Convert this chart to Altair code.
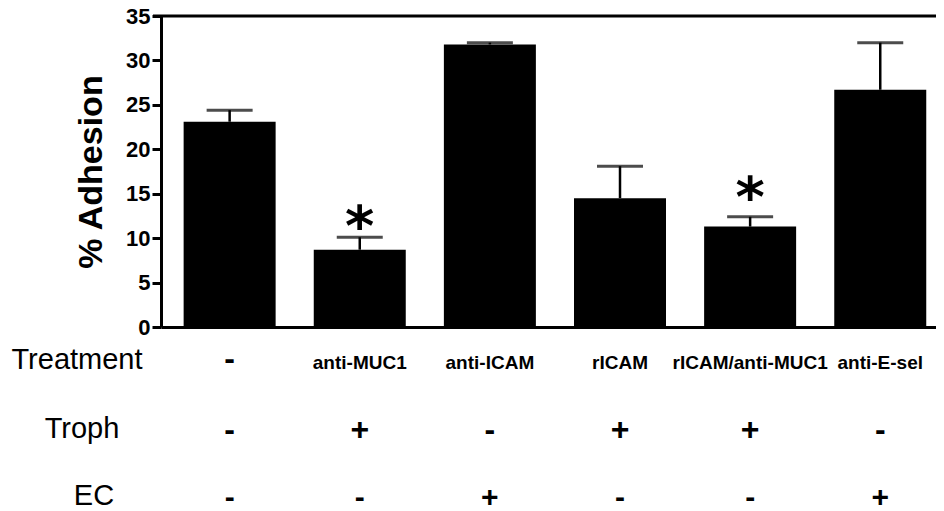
import altair as alt
import pandas as pd

# ---- data ----
treatments = ["-", "anti-MUC1", "anti-ICAM", "rICAM", "rICAM/anti-MUC1", "anti-E-sel"]
adhesion = [23.1, 8.7, 31.8, 14.5, 11.3, 26.7]
err_top = [24.4, 10.1, 32.0, 18.1, 12.4, 32.0]
troph = ["-", "+", "-", "+", "+", "-"]
ec = ["-", "-", "+", "-", "-", "+"]
stars = ["", "*", "", "", "*", ""]
star_y = [None, 12.8, None, None, 16.1, None]
row_labels = ["Treatment", "Troph", "EC"]
y_ticks = [0, 5, 10, 15, 20, 25, 30, 35]

df = pd.DataFrame({
    "idx": list(range(len(treatments))),
    "treatment": treatments,
    "adhesion": adhesion,
    "err": err_top,
    "troph": troph,
    "ec": ec,
    "star": stars,
    "star_y": star_y,
})

W, H = 775, 311
FONT = "Liberation Sans"

xscale = alt.Scale(domain=[-0.489, 5.39], nice=False, zero=False)
yscale = alt.Scale(domain=[0, 35], nice=False)

x_enc = alt.X("idx:Q", scale=xscale,
              axis=alt.Axis(labels=False, ticks=False, grid=False, title=None,
                            domainColor="black", domainWidth=3))
y_axis = alt.Axis(values=y_ticks, grid=False, title="% Adhesion",
                  titleFont=FONT, titleFontSize=34, titleFontWeight="bold",
                  titleColor="black", titlePadding=17,
                  labelFont=FONT, labelFontSize=22, labelFontWeight="bold",
                  labelColor="black", labelPadding=2,
                  domainColor="black", domainWidth=3,
                  tickColor="black", tickWidth=3, tickSize=9)

base = alt.Chart(df)

bars = base.mark_bar(color="black", size=92).encode(
    x=x_enc,
    y=alt.Y("adhesion:Q", scale=yscale, axis=y_axis),
)

stems = base.mark_rule(color="black", strokeWidth=2.5).encode(
    x="idx:Q", y="adhesion:Q", y2="err:Q")

caps = base.mark_tick(color="black", orient="horizontal", size=46, thickness=3).encode(
    x="idx:Q", y="err:Q")

star_marks = base.transform_filter("datum.star != ''").mark_text(
    font="DejaVu Sans", fontWeight="bold", fontSize=56, color="black",
    baseline="alphabetic", dy=32).encode(
    x="idx:Q", y="star_y:Q", text="star:N")

top_line = alt.Chart(pd.DataFrame({"v": [35]})).mark_rule(
    color="black", strokeWidth=3).encode(
    y=alt.Y("v:Q", scale=yscale), x=alt.value(-8), x2=alt.value(W))

treat_text = base.mark_text(font=FONT, fontWeight="bold", color="black",
                            baseline="alphabetic").encode(
    x="idx:Q", y=alt.value(369 - 16), text="treatment:N",
    size=alt.condition("datum.treatment == '-'", alt.value(32), alt.value(19)))

troph_text = base.mark_text(font=FONT, fontWeight="bold", fontSize=32,
                            color="black", baseline="alphabetic").encode(
    x="idx:Q", y=alt.value(440 - 16), text="troph:N")

ec_text = base.mark_text(font=FONT, fontWeight="bold", fontSize=30,
                         color="black", baseline="alphabetic").encode(
    x="idx:Q", y=alt.value(507 - 16), text="ec:N")

labels_df = pd.DataFrame({"label": row_labels})
row_x = {"Treatment": 77 - 161, "Troph": 82 - 161, "EC": 94 - 161}
row_y = {"Treatment": 369 - 16, "Troph": 438 - 16, "EC": 505 - 16}
row_marks = []
for lab in row_labels:
    row_marks.append(
        alt.Chart(labels_df).transform_filter(f"datum.label == '{lab}'").mark_text(
            font=FONT, fontSize=29, color="black", baseline="alphabetic",
            align="center").encode(
            x=alt.value(row_x[lab]), y=alt.value(row_y[lab]), text="label:N"))

chart = alt.layer(bars, stems, caps, star_marks, top_line,
                  treat_text, troph_text, ec_text, *row_marks).properties(
    width=W, height=H,
    autosize=alt.AutoSizeParams(type="none"),
    padding={"left": 153, "top": 8, "right": 0, "bottom": 184},
    background="white",
).configure_view(stroke=None)

chart.save("out.html", embed_options={"renderer": "svg", "actions": False})
